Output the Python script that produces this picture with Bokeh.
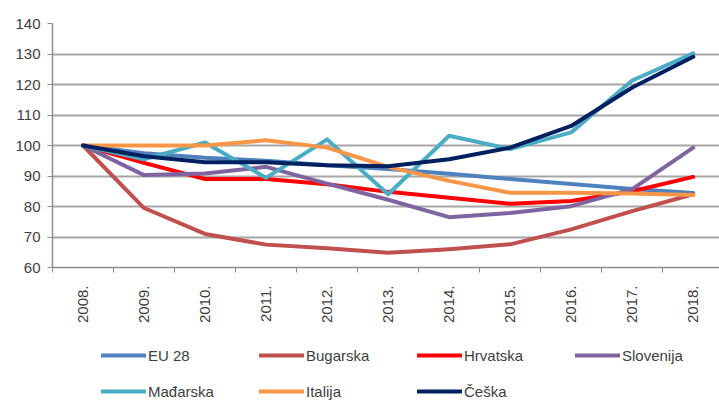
from bokeh.plotting import figure
from bokeh.layouts import column
from bokeh.models import Range1d, FixedTicker, Legend, LegendItem
from bokeh.embed import file_html
from bokeh.resources import INLINE

years = ["2008.", "2009.", "2010.", "2011.", "2012.", "2013.",
         "2014.", "2015.", "2016.", "2017.", "2018."]
eu28 = [100, 97.5, 96, 95, 93.5, 92.3, 90.7, 89, 87.4, 85.7, 84.4]
bugarska = [100, 79.5, 71, 67.5, 66.3, 64.8, 66, 67.6, 72.5, 78.5, 84]
hrvatska = [100, 94.3, 89, 89, 87.3, 84.8, 82.9, 80.9, 81.8, 85, 89.7]
slovenija = [100, 90.3, 90.8, 93, 87.5, 82.2, 76.5, 77.9, 80.1, 85.7, 99.3]
madarska = [100, 95.5, 101, 89.4, 102, 84, 103.2, 98.8, 104.3, 121.3, 130.2]
italija = [100, 100, 100, 101.7, 99.3, 93, 88.4, 84.5, 84.5, 84.3, 83.8]
ceska = [100, 96.5, 94.5, 94.5, 93.5, 93.2, 95.5, 99.3, 106.4, 119, 129.1]
y_ticks = [60, 70, 80, 90, 100, 110, 120, 130, 140]

series = [
    ("EU 28", eu28, "#4f81bd"),
    ("Bugarska", bugarska, "#c0504d"),
    ("Hrvatska", hrvatska, "#ff0000"),
    ("Slovenija", slovenija, "#8064a2"),
    ("Mađarska", madarska, "#4bacc6"),
    ("Italija", italija, "#f79646"),
    ("Češka", ceska, "#002060"),
]

xs = list(range(len(years)))
FONT = "Liberation Sans"
TXT = "#404040"

p = figure(width=719, height=330, output_backend="svg", toolbar_location=None,
           x_range=Range1d(-0.5, 10.43), y_range=Range1d(60, 140),
           min_border_left=52, min_border_right=0, min_border_top=23,
           min_border_bottom=63)
p.outline_line_color = None
p.background_fill_color = "white"

for name, vals, col in series:
    p.line(xs, vals, line_color=col, line_width=4, line_join="round", line_cap="round")

# axes
p.xgrid.grid_line_color = None
p.ygrid.grid_line_color = "#a6a6a6"
p.ygrid.grid_line_width = 2
p.ygrid.ticker = FixedTicker(ticks=y_ticks)

p.yaxis.ticker = FixedTicker(ticks=y_ticks)
p.yaxis.axis_line_color = "#8c8c8c"
p.yaxis.axis_line_width = 1.5
p.yaxis.major_tick_line_color = "#8c8c8c"
p.yaxis.major_tick_out = 5
p.yaxis.major_tick_in = 0
p.yaxis.minor_tick_line_color = None
p.yaxis.major_label_standoff = 7
p.yaxis.major_label_text_font = FONT
p.yaxis.major_label_text_font_size = "15px"
p.yaxis.major_label_text_color = TXT

p.xaxis.ticker = FixedTicker(ticks=xs, minor_ticks=[i - 0.5 for i in xs] + [10.5])
p.xaxis.major_label_overrides = {i: y for i, y in enumerate(years)}
p.xaxis.major_label_orientation = 3.14159265 / 2
p.xaxis.axis_line_color = "#8c8c8c"
p.xaxis.axis_line_width = 1.5
p.xaxis.major_tick_line_color = None
p.xaxis.major_tick_out = 0
p.xaxis.major_tick_in = 0
p.xaxis.minor_tick_line_color = "#8c8c8c"
p.xaxis.minor_tick_out = 5
p.xaxis.minor_tick_in = 0
p.xaxis.major_label_standoff = 13
p.xaxis.major_label_text_font = FONT
p.xaxis.major_label_text_font_size = "15px"
p.xaxis.major_label_text_color = TXT

# legend strip below the chart; its lines use the same data but lie outside
# this strip's visible range, so only the legend itself is seen
pl = figure(width=719, height=71, output_backend="svg", toolbar_location=None,
            x_axis_type=None, y_axis_type=None,
            x_range=Range1d(-0.5, 10.43), y_range=Range1d(0, 1),
            min_border_left=52, min_border_right=0, min_border_top=0,
            min_border_bottom=0)
pl.outline_line_color = None
pl.xgrid.grid_line_color = None
pl.ygrid.grid_line_color = None

items = []
for name, vals, col in series:
    r = pl.line(xs, vals, line_color=col, line_width=4, line_cap="round")
    items.append(LegendItem(label=name, renderers=[r]))

legend = Legend(items=items, location=(49, 0), orientation="horizontal", ncols=4,
                glyph_width=45, glyph_height=20, label_height=20,
                label_width=95, label_standoff=2, spacing=16,
                padding=0, margin=0, border_line_color=None,
                background_fill_alpha=0,
                label_text_font=FONT, label_text_font_size="15px",
                label_text_color=TXT)
pl.add_layout(legend)

layout = column(p, pl, spacing=0)
open("out.html", "w").write(file_html(layout, INLINE))
